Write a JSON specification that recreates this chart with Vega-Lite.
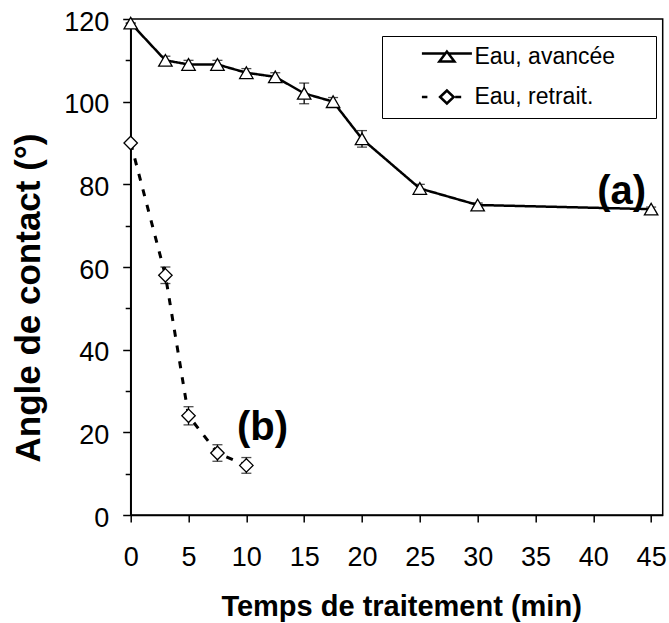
{
  "$schema": "https://vega.github.io/schema/vega-lite/v6.json",
  "width": 532,
  "height": 496,
  "autosize": {"type": "none"},
  "padding": {"left": 130.7, "top": 19, "right": 6.3, "bottom": 108},
  "background": "white",
  "config": {
    "font": "Liberation Sans",
    "view": {"stroke": "black", "strokeWidth": 1.5},
    "axis": {
      "grid": false,
      "domainColor": "black",
      "domainWidth": 1.5,
      "tickColor": "black",
      "tickWidth": 1.5,
      "labelColor": "black",
      "titleColor": "black",
      "labelFont": "Liberation Sans",
      "titleFont": "Liberation Sans",
      "labelFontSize": 27,
      "titleFontWeight": "bold",
      "labelFlush": false,
      "labelOverlap": false
    }
  },
  "datasets": {
    "main": [
      {"series": "Eau, avancée", "t": 0, "angle": 119, "err": 0},
      {"series": "Eau, avancée", "t": 3, "angle": 110, "err": 1},
      {"series": "Eau, avancée", "t": 5, "angle": 109, "err": 1},
      {"series": "Eau, avancée", "t": 7.5, "angle": 109, "err": 1},
      {"series": "Eau, avancée", "t": 10, "angle": 107, "err": 1},
      {"series": "Eau, avancée", "t": 12.5, "angle": 106, "err": 1},
      {"series": "Eau, avancée", "t": 15, "angle": 102, "err": 2.5},
      {"series": "Eau, avancée", "t": 17.5, "angle": 100, "err": 1},
      {"series": "Eau, avancée", "t": 20, "angle": 91, "err": 2},
      {"series": "Eau, avancée", "t": 25, "angle": 79, "err": 1},
      {"series": "Eau, avancée", "t": 30, "angle": 75, "err": 0.5},
      {"series": "Eau, avancée", "t": 45, "angle": 74, "err": 0.5},
      {"series": "Eau, retrait.", "t": 0, "angle": 90, "err": 0},
      {"series": "Eau, retrait.", "t": 3, "angle": 58, "err": 2},
      {"series": "Eau, retrait.", "t": 5, "angle": 24, "err": 2.2},
      {"series": "Eau, retrait.", "t": 7.5, "angle": 15, "err": 2},
      {"series": "Eau, retrait.", "t": 10, "angle": 12, "err": 1.9}
    ],
    "annot": [
      {"label": "(a)", "t": 42.45, "angle": 78.1},
      {"label": "(b)", "t": 11.4, "angle": 21}
    ]
  },
  "encoding": {
    "x": {
      "field": "t",
      "type": "quantitative",
      "scale": {"domain": [0, 46], "nice": false},
      "axis": {
        "values": [0, 5, 10, 15, 20, 25, 30, 35, 40, 45],
        "tickSize": 7,
        "labelPadding": 22.5,
        "title": "Temps de traitement (min)",
        "titleFontSize": 29,
        "titleX": 270.4,
        "titleY": 100,
        "titleBaseline": "alphabetic",
        "titleAlign": "center"
      }
    },
    "y": {
      "field": "angle",
      "type": "quantitative",
      "scale": {"domain": [0, 120], "nice": false},
      "axis": {
        "values": [0, 10, 20, 30, 40, 50, 60, 70, 80, 90, 100, 110, 120],
        "tickSize": {"condition": {"test": "datum.value % 20 === 0", "value": 8}, "value": 5.5},
        "labelExpr": "datum.value % 20 === 0 ? datum.label : ''",
        "labelPadding": 14,
        "labelOffset": 3,
        "title": "Angle de contact (°)",
        "titleFontSize": 35,
        "titleAngle": 270,
        "titleX": -91,
        "titleY": 278.5,
        "titleBaseline": "alphabetic",
        "titleAlign": "center"
      }
    }
  },
  "layer": [
    {
      "data": {"name": "main"},
      "mark": {"type": "line", "color": "black"},
      "encoding": {
        "strokeDash": {
          "field": "series",
          "type": "nominal",
          "scale": {"domain": ["Eau, avancée", "Eau, retrait."], "range": [[1, 0], [7, 9]]},
          "legend": null
        },
        "strokeWidth": {
          "field": "series",
          "type": "nominal",
          "scale": {"domain": ["Eau, avancée", "Eau, retrait."], "range": [2.5, 3]},
          "legend": null
        }
      }
    },
    {
      "data": {"name": "main"},
      "mark": {"type": "errorbar", "ticks": {"size": 10, "color": "black"}, "color": "black", "thickness": 1.3},
      "encoding": {
        "yError": {"field": "err"}
      }
    },
    {
      "data": {"name": "main"},
      "mark": {"type": "point", "filled": true, "fill": "white", "stroke": "black", "strokeWidth": 1.3, "size": 180, "opacity": 1},
      "encoding": {
        "shape": {
          "field": "series",
          "type": "nominal",
          "scale": {"domain": ["Eau, avancée", "Eau, retrait."], "range": ["triangle-up", "diamond"]},
          "legend": null
        }
      }
    },
    {
      "data": {"name": "annot"},
      "mark": {"type": "text", "fontSize": 40, "fontWeight": "bold", "font": "Liberation Sans", "color": "black", "baseline": "middle", "align": "center"},
      "encoding": {
        "text": {"field": "label", "type": "nominal"}
      }
    },
    {
      "data": {"name": "main"},
      "mark": {"type": "point", "opacity": 0},
      "encoding": {
        "shape": {
          "field": "series",
          "type": "nominal",
          "scale": {
            "domain": ["Eau, avancée", "Eau, retrait."],
            "range": [
              "M-2.5,-0.3H-0.15M0.15,-0.3H2.5M-0.75,0.5L0,-0.5L0.75,0.5ZM19.5,0",
              "M-2.5,0H-1.95M0.83,0H1.43M-0.68,0L0,-0.65L0.68,0L0,0.65ZM19.5,0"
            ]
          },
          "legend": {
            "orient": "none",
            "legendX": 251.3,
            "legendY": 17,
            "title": null,
            "padding": 9,
            "rowPadding": 16.5,
            "labelFont": "Liberation Sans",
            "labelFontSize": 23,
            "labelColor": "black",
            "labelOffset": 16,
            "labelLimit": 400,
            "symbolSize": 400,
            "symbolOffset": 44.4,
            "symbolStrokeWidth": 2.5,
            "symbolStrokeColor": "black",
            "symbolFillColor": "white",
            "symbolOpacity": 1,
            "strokeColor": "black",
            "encode": {
              "symbols": {
                "update": {
                  "opacity": {"value": 1},
                  "fill": {"value": "white"},
                  "stroke": {"value": "black"},
                  "strokeWidth": {"value": 2.5}
                }
              }
            }
          }
        }
      }
    }
  ],
  "resolve": {"scale": {"shape": "independent"}}
}
